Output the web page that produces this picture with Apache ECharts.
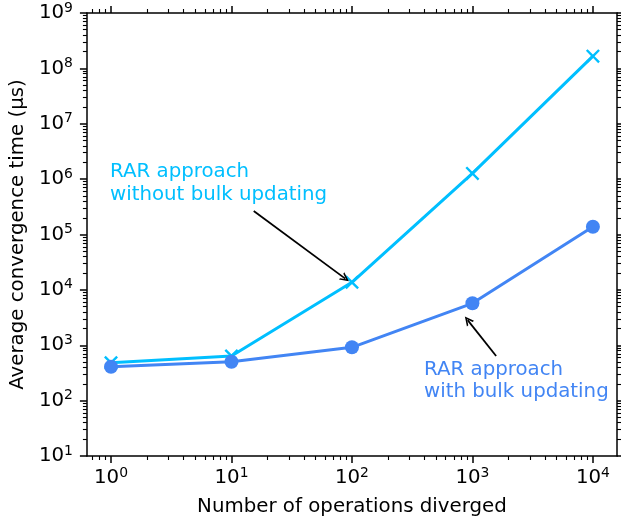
<!DOCTYPE html>
<html>
<head>
<meta charset="utf-8">
<script src="https://cdn.jsdelivr.net/npm/echarts@6/dist/echarts.min.js"></script>
<style>
html,body{margin:0;padding:0;background:#fff;}
#chart{width:621px;height:522px;}
</style>
</head>
<body>
<div id="chart"></div>
<script>
// ---- data ----
var opsDiverged = [1, 10, 100, 1000, 10000];
var withoutBulk = [484, 640, 13700, 1270000, 166000000];
var withBulk = [410, 505, 918, 5720, 138000];
var seriesNames = ['RAR approach\nwithout bulk updating', 'RAR approach\nwith bulk updating'];
var xMajorTicks = [1, 10, 100, 1000, 10000];
var yMajorTicks = [10, 100, 1000, 10000, 100000, 1000000, 10000000, 100000000, 1000000000];
var minorMultipliers = [2, 3, 4, 5, 6, 7, 8, 9];
var xMinorTicks = [0.7, 0.8, 0.9];
[1, 10, 100, 1000].forEach(function (d) { minorMultipliers.forEach(function (m) { xMinorTicks.push(m * d); }); });
var yMinorTicks = [];
[10, 100, 1000, 10000, 100000, 1000000, 10000000, 100000000].forEach(function (d) { minorMultipliers.forEach(function (m) { yMinorTicks.push(m * d); }); });

var FONT = 'DejaVu Sans';
var FS = 19.8;
var CYAN = '#00bfff';
var BLUE = '#4285f4';
var xMin = Math.pow(10, -0.2), xMax = Math.pow(10, 4.2);

function powLabel(v) {
  var e = Math.round(Math.log10(v));
  return '{b|10}{s|' + e + '}';
}
var rich = {
  b: { fontSize: FS, fontFamily: FONT, color: '#000', lineHeight: 24 },
  s: { fontSize: 13.9, fontFamily: FONT, color: '#000', lineHeight: 14, verticalAlign: 'top' }
};

function mkAxis(opts) {
  var a = {
    type: 'log', logBase: 10, gridIndex: 0,
    position: opts.position,
    splitLine: { show: false },
    axisLine: { show: opts.line, onZero: false, lineStyle: { color: '#000', width: 1.5 } },
    axisTick: { show: true, inside: false, length: opts.len, customValues: opts.ticks,
                lineStyle: { color: '#000', width: opts.len > 5 ? 1.5 : 1.1 } },
    axisLabel: { show: !!opts.labels },
    minorTick: { show: false }, minorSplitLine: { show: false }
  };
  if (opts.labels) {
    a.axisLabel = { show: true, customValues: opts.ticks, formatter: powLabel, rich: rich, margin: opts.margin };
  }
  if (opts.name) {
    a.name = opts.name; a.nameLocation = 'middle'; a.nameGap = opts.nameGap;
    a.nameTextStyle = { fontSize: FS, fontFamily: FONT, color: '#000' };
  }
  return a;
}

var xAxes = [
  mkAxis({ position: 'bottom', line: true, len: 7, ticks: xMajorTicks, labels: true, margin: 10, name: 'Number of operations diverged', nameGap: 41 }),
  mkAxis({ position: 'bottom', line: false, len: 4, ticks: xMinorTicks }),
  mkAxis({ position: 'top', line: true, len: 7, ticks: xMajorTicks }),
  mkAxis({ position: 'top', line: false, len: 4, ticks: xMinorTicks })
];
var yAxes = [
  mkAxis({ position: 'left', line: true, len: 7, ticks: yMajorTicks, labels: true, margin: 14, name: 'Average convergence time (μs)', nameGap: 58 }),
  mkAxis({ position: 'left', line: false, len: 4, ticks: yMinorTicks }),
  mkAxis({ position: 'right', line: true, len: 7, ticks: yMajorTicks }),
  mkAxis({ position: 'right', line: false, len: 4, ticks: yMinorTicks })
];
xAxes.forEach(function (a) { a.min = xMin; a.max = xMax; });
yAxes.forEach(function (a) { a.min = 10; a.max = 1e9; });

var chevron = 'path://M0,10 L5,0 L10,10 L8.1,10 L5,3.8 L1.9,10 Z';
function arrowLine(from, to) {
  return {
    silent: true, animation: false,
    symbol: ['none', chevron], symbolSize: [9, 9],
    label: { show: false },
    lineStyle: { color: '#000', width: 1.8, type: 'solid' },
    emphasis: { disabled: true },
    data: [[{ coord: from }, { coord: to }]]
  };
}

var xSymbol = 'path://M1.2,0 L5,3.8 L8.8,0 L10,1.2 L6.2,5 L10,8.8 L8.8,10 L5,6.2 L1.2,10 L0,8.8 L3.8,5 L0,1.2 Z';

var chart = echarts.init(document.getElementById('chart'), null, { renderer: 'canvas' });
chart.setOption({
  animation: false,
  backgroundColor: '#fff',
  grid: { left: 86, right: 4, top: 13, bottom: 66 },
  xAxis: xAxes,
  yAxis: yAxes,
  series: [
    {
      name: seriesNames[0], type: 'line', xAxisIndex: 0, yAxisIndex: 0,
      data: opsDiverged.map(function (x, i) { return [x, withoutBulk[i]]; }),
      lineStyle: { color: CYAN, width: 3 }, itemStyle: { color: CYAN },
      symbol: xSymbol, symbolSize: 14, showSymbol: true,
      markLine: arrowLine([15.3, 265000], [88.0, 15980])
    },
    {
      name: seriesNames[1], type: 'line', xAxisIndex: 0, yAxisIndex: 0,
      data: opsDiverged.map(function (x, i) { return [x, withBulk[i]]; }),
      lineStyle: { color: BLUE, width: 3 }, itemStyle: { color: BLUE },
      symbol: 'circle', symbolSize: 14, showSymbol: true,
      markLine: arrowLine([1573, 640], [913, 2844])
    }
  ],
  graphic: [
    { type: 'text', left: 110, top: 161, silent: true,
      style: { text: seriesNames[0], fill: CYAN, fontSize: FS, fontFamily: FONT, lineHeight: 22.4 } },
    { type: 'text', left: 424, top: 359, silent: true,
      style: { text: seriesNames[1], fill: BLUE, fontSize: FS, fontFamily: FONT, lineHeight: 21.8 } }
  ]
});
</script>
</body>
</html>
